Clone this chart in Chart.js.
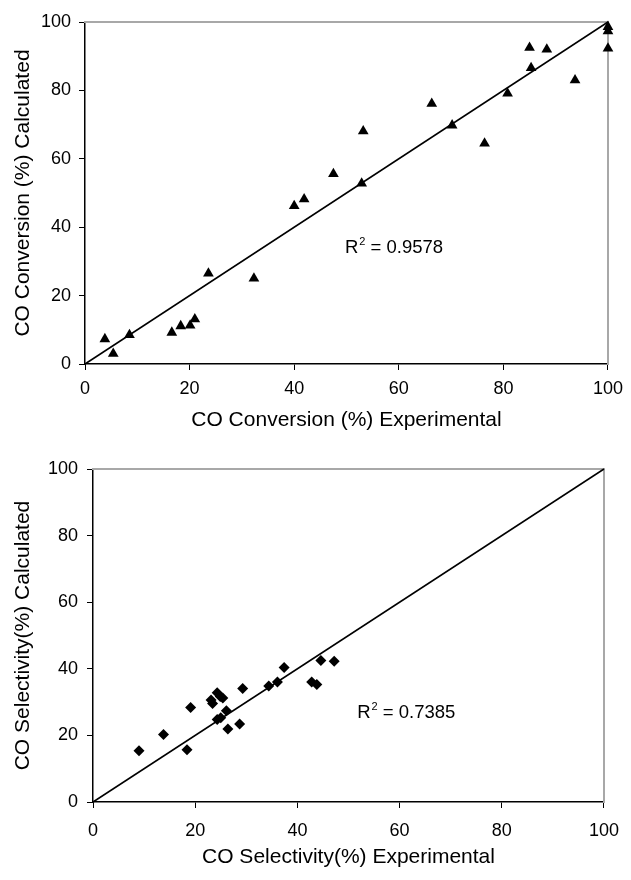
<!DOCTYPE html>
<html><head><meta charset="utf-8">
<script src="https://cdn.jsdelivr.net/npm/chart.js@4/dist/chart.umd.min.js"></script>
<style>
html,body{margin:0;padding:0;background:#fff;}
.box{position:absolute;left:0;width:631px;height:440px;}
</style></head><body>
<div class="box" style="top:0"><canvas id="c1"></canvas></div>
<div class="box" style="top:440px"><canvas id="c2"></canvas></div>
<script>
// ---- data ----
const tickValues = [0, 20, 40, 60, 80, 100];
const parityLine = [0, 100];

const convExperimental = [3.8, 5.4, 8.5, 16.6, 18.3, 20.1, 21.0, 23.6, 32.3, 40.0, 41.9, 47.5, 52.9, 53.2, 66.3, 70.2, 76.4, 80.8, 85.0, 85.3, 88.3, 93.7, 100, 100, 100];
const convCalculated   = [7.3, 3.0, 8.5, 9.2, 11.1, 11.3, 13.1, 26.5, 25.0, 46.2, 48.2, 55.6, 52.8, 68.1, 76.1, 69.8, 64.5, 79.1, 92.5, 86.6, 92.0, 83.0, 98.6, 97.3, 92.3];

const selExperimental = [9.0, 13.8, 18.4, 19.1, 23.1, 23.4, 24.3, 24.9, 25.4, 24.3, 25.0, 26.1, 26.4, 28.7, 29.3, 34.4, 36.1, 37.4, 42.8, 43.8, 44.6, 47.2];
const selCalculated   = [15.4, 20.3, 15.7, 28.4, 30.6, 29.6, 32.8, 31.7, 31.2, 24.8, 25.3, 27.4, 21.9, 23.4, 34.1, 34.8, 36.0, 40.4, 36.0, 35.3, 42.5, 42.3];

const convTitles = ['CO Conversion (%) Experimental', 'CO Conversion (%) Calculated'];
const selTitles  = ['CO Selectivity(%) Experimental', 'CO Selectivity(%) Calculated'];
const r2Values = ['0.9578', '0.7385'];

// ---- helpers ----
const FONT = '"Liberation Sans", Arial, Helvetica, sans-serif';
Chart.defaults.font.family = FONT;
Chart.defaults.color = '#000';

const r2Plugin = {
  id: 'r2',
  afterDatasetsDraw(chart, args, o) {
    const {ctx, scales} = chart;
    const px = scales.x.getPixelForValue(o.x);
    const py = scales.y.getPixelForValue(o.y);
    ctx.save();
    ctx.fillStyle = '#000';
    ctx.textBaseline = 'alphabetic';
    ctx.textAlign = 'left';
    ctx.font = '18.5px ' + FONT;
    ctx.fillText('R', px, py);
    let cx = px + ctx.measureText('R').width + 1;
    ctx.font = '11px ' + FONT;
    ctx.fillText('2', cx, py - 8);
    cx += ctx.measureText('2').width;
    ctx.font = '18.5px ' + FONT;
    ctx.fillText(' = ' + o.text, cx, py);
    ctx.restore();
  }
};

function makeChart(id, xs, ys, titles, cfg) {
  const pts = xs.map((v, i) => ({x: v, y: ys[i]}));
  const line = parityLine.map(v => ({x: v, y: v}));
  const setTicks = s => { s.ticks = tickValues.map(v => ({value: v})); };
  return new Chart(document.getElementById(id), {
    type: 'scatter',
    data: {
      datasets: [
        {type: 'line', data: line, borderColor: '#000', borderWidth: 1.5, pointRadius: 0, fill: false, order: 2, clip: false},
        {data: pts, backgroundColor: '#000', borderColor: '#000', borderWidth: 0, clip: false,
         pointStyle: cfg.marker, pointRadius: cfg.radius, pointRotation: cfg.rotation || 0, order: 1}
      ]
    },
    options: {
      responsive: true, maintainAspectRatio: false, animation: false,
      layout: {padding: {top: cfg.padTop, right: cfg.padRight, left: 0, bottom: 0}},
      plugins: {legend: {display: false}, tooltip: {enabled: false},
        r2: {x: cfg.r2x, y: cfg.r2y, text: cfg.r2text}},
      scales: {
        x: {type: 'linear', position: 'bottom', min: 0, max: 100,
          afterBuildTicks: setTicks,
          afterFit: s => { s.height = cfg.xH; },
          ticks: {color: '#000', font: {size: 18}, padding: cfg.xTickPad, maxRotation: 0},
          grid: {drawOnChartArea: false, drawTicks: true, tickLength: 6, color: '#000', lineWidth: 1},
          border: {display: true, color: '#000', width: 1.5},
          title: {display: true, text: titles[0], color: '#000', font: {size: 21}, padding: {top: 0, bottom: cfg.xTitlePad}}
        },
        y: {type: 'linear', position: 'left', min: 0, max: 100,
          afterBuildTicks: setTicks,
          afterFit: s => { s.width = cfg.yW; },
          ticks: {color: '#000', font: {size: 18}, padding: cfg.yTickPad},
          grid: {drawOnChartArea: false, drawTicks: true, tickLength: 6, color: '#000', lineWidth: 1},
          border: {display: true, color: '#000', width: 1.5},
          title: {display: true, text: titles[1], color: '#000', font: {size: 21}, padding: {top: cfg.yTitlePad, bottom: 0}}
        },
        x2: {type: 'linear', position: 'top', min: 0, max: 100,
          afterFit: s => { s.height = 0; },
          ticks: {display: false}, grid: {display: false, drawTicks: false},
          border: {display: true, color: '#a8a8a8', width: 2}
        },
        y2: {type: 'linear', position: 'right', min: 0, max: 100,
          afterFit: s => { s.width = 0; },
          ticks: {display: false}, grid: {display: false, drawTicks: false},
          border: {display: true, color: '#a8a8a8', width: 2}
        }
      }
    },
    plugins: [r2Plugin]
  });
}

makeChart('c1', convExperimental, convCalculated, convTitles, {
  marker: 'triangle', radius: 6.2,
  padTop: 22, padRight: 17, xH: 76, yW: 85,
  xTickPad: 8, yTickPad: 8, xTitlePad: 7, yTitlePad: 11,
  r2x: 49.7, r2y: 32.5, r2text: r2Values[0]
});

makeChart('c2', selExperimental, selCalculated, selTitles, {
  marker: 'rectRot', radius: 5.5,
  padTop: 29, padRight: 16, xH: 78, yW: 93,
  xTickPad: 12, yTickPad: 9, xTitlePad: 10, yTitlePad: 11,
  r2x: 51.7, r2y: 25.2, r2text: r2Values[1]
});
</script>
</body></html>
